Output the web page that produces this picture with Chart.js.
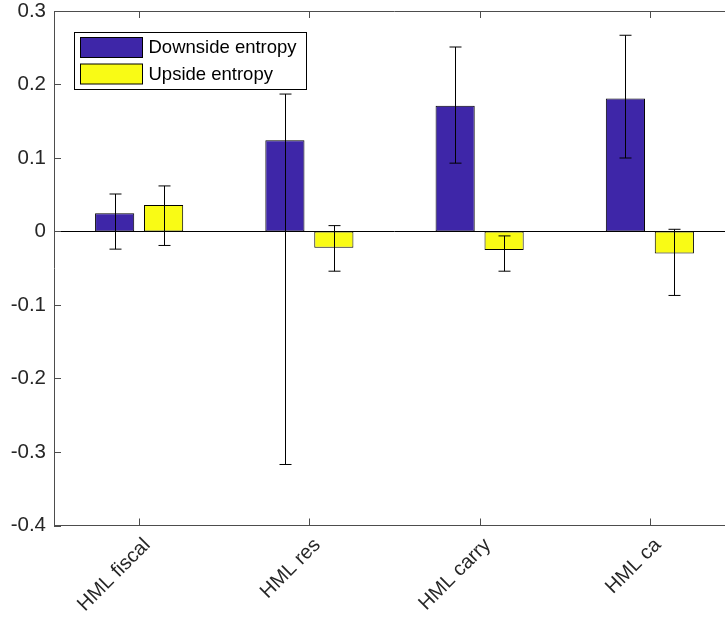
<!DOCTYPE html>
<html>
<head>
<meta charset="utf-8">
<script src="https://cdn.jsdelivr.net/npm/chart.js@4"></script>
<style>
  html, body { margin: 0; padding: 0; background: #fff; overflow: hidden; }
  #wrap { width: 745px; height: 619px; }
</style>
</head>
<body>
<div id="wrap"><canvas id="myChart" width="745" height="619"></canvas></div>
<script>
// categorie e valori
var categorie = ['HML fiscal', 'HML res', 'HML carry', 'HML ca'];
var downside = [0.025, 0.124, 0.171, 0.181];
var upside = [0.036, -0.022, -0.025, -0.030];
// estremi delle barre di errore
var downsideLow = [-0.024, -0.317, 0.093, 0.100];
var downsideHigh = [0.051, 0.187, 0.251, 0.267];
var upsideLow = [-0.019, -0.054, -0.054, -0.087];
var upsideHigh = [0.062, 0.008, -0.006, 0.003];
var yTicks = [-0.4, -0.3, -0.2, -0.1, 0, 0.1, 0.2, 0.3];

var font = 'Liberation Sans, Arial, Helvetica, sans-serif';
var axisColor = '#4d4d4d';

// plugin per barre di errore, legenda, bordo superiore e tacche interne
var extras = {
  id: 'extras',
  afterDatasetsDraw: function(chart) {
    var ctx = chart.ctx;
    var ca = chart.chartArea;
    var y = chart.scales.y;
    var x = chart.scales.x;
    ctx.save();

    // linea dello zero
    ctx.strokeStyle = '#000';
    ctx.lineWidth = 1;
    var y0 = Math.round(y.getPixelForValue(0)) + 0.5;
    ctx.beginPath();
    ctx.moveTo(ca.left, y0);
    ctx.lineTo(ca.right, y0);
    ctx.stroke();

    // barre di errore
    var err = [[downsideLow, downsideHigh], [upsideLow, upsideHigh]];
    for (var d = 0; d < 2; d++) {
      var meta = chart.getDatasetMeta(d);
      for (var i = 0; i < meta.data.length; i++) {
        var px = Math.round(meta.data[i].x) + 0.5;
        var yl = y.getPixelForValue(err[d][0][i]);
        var yh = y.getPixelForValue(err[d][1][i]);
        ctx.beginPath();
        ctx.moveTo(px, yl);
        ctx.lineTo(px, yh);
        ctx.moveTo(px - 6, yl);
        ctx.lineTo(px + 6, yl);
        ctx.moveTo(px - 6, yh);
        ctx.lineTo(px + 6, yh);
        ctx.stroke();
      }
    }

    // bordo superiore e tacche interne
    ctx.strokeStyle = axisColor;
    ctx.beginPath();
    ctx.moveTo(ca.left, ca.top + 0.5);
    ctx.lineTo(ca.right, ca.top + 0.5);
    for (var k = 0; k < yTicks.length; k++) {
      var ty = Math.round(y.getPixelForValue(yTicks[k])) + 0.5;
      ctx.moveTo(ca.left, ty);
      ctx.lineTo(ca.left + 7, ty);
    }
    for (var c = 0; c < categorie.length; c++) {
      var tx = Math.round(x.getPixelForValue(c)) + 0.5;
      ctx.moveTo(tx, ca.bottom);
      ctx.lineTo(tx, ca.bottom - 7);
      ctx.moveTo(tx, ca.top);
      ctx.lineTo(tx, ca.top + 7);
    }
    ctx.stroke();

    // legenda
    var lx = ca.left + 20.5, ly = ca.top + 21.5;
    ctx.fillStyle = '#fff';
    ctx.fillRect(lx, ly, 232, 57);
    ctx.strokeStyle = '#000';
    ctx.strokeRect(lx, ly, 232, 57);
    ctx.font = '18.5px ' + font;
    ctx.textBaseline = 'middle';
    var ds = chart.data.datasets;
    for (var j = 0; j < ds.length; j++) {
      var py = ly + 5 + j * 26.5;
      ctx.fillStyle = ds[j].backgroundColor;
      ctx.fillRect(lx + 6, py, 62, 20);
      ctx.strokeStyle = '#000';
      ctx.strokeRect(lx + 6, py, 62, 20);
      ctx.fillStyle = '#000';
      ctx.fillText(ds[j].label, lx + 74, py + 10.5);
    }
    ctx.restore();
  }
};

var ctx = document.getElementById('myChart').getContext('2d');
var myChart = new Chart(ctx, {
  type: 'bar',
  data: {
    labels: categorie,
    datasets: [{
      label: 'Downside entropy',
      data: downside,
      backgroundColor: 'rgb(62, 38, 168)',
      borderColor: '#000',
      borderWidth: 1,
      borderSkipped: false,
      barPercentage: 0.8,
      categoryPercentage: 0.575
    }, {
      label: 'Upside entropy',
      data: upside,
      backgroundColor: 'rgb(249, 251, 21)',
      borderColor: '#000',
      borderWidth: 1,
      borderSkipped: false,
      barPercentage: 0.8,
      categoryPercentage: 0.575
    }]
  },
  options: {
    responsive: false,
    animation: false,
    events: [],
    layout: { padding: { top: 0, left: 0, right: 10, bottom: 0 } },
    plugins: { legend: { display: false }, tooltip: { enabled: false } },
    scales: {
      x: {
        grid: { display: false, drawTicks: false },
        border: { display: true, color: axisColor, width: 1 },
        ticks: {
          color: '#262626',
          font: { family: font, size: 20 },
          minRotation: 45,
          maxRotation: 45,
          padding: 8,
          labelOffset: 8
        },
        afterFit: function(scale) { scale.height = 93.5; }
      },
      y: {
        min: -0.4,
        max: 0.3,
        grid: { display: false, drawTicks: false },
        border: { display: true, color: axisColor, width: 1 },
        ticks: {
          stepSize: 0.1,
          color: '#262626',
          font: { family: font, size: 20.5 },
          padding: 8,
          callback: function(v) { return String(Math.round(v * 10) / 10); }
        },
        afterFit: function(scale) {
          scale.width = 54;
          scale.paddingTop = 11;
        }
      }
    }
  },
  plugins: [extras]
});
</script>
</body>
</html>
